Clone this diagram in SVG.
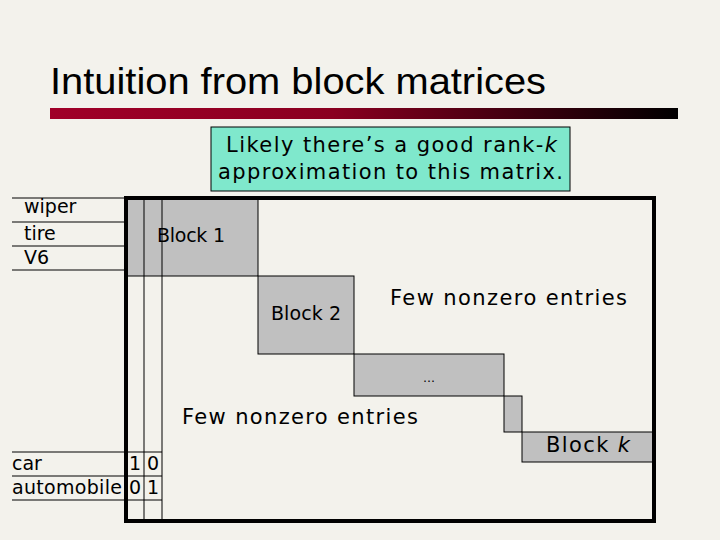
<svg xmlns="http://www.w3.org/2000/svg" width="720" height="540" viewBox="0 0 720 540">
<defs>
<linearGradient id="bar" x1="0" x2="1" y1="0" y2="0">
<stop offset="0" stop-color="#a00028"/><stop offset="0.45" stop-color="#8a0020"/><stop offset="1" stop-color="#000"/>
</linearGradient>
<style>
text{font-family:"DejaVu Sans","Noto Sans",sans-serif;fill:#000}
.blk{fill:#c0c0c0;stroke:#000;stroke-width:1}
.ln{stroke:#000;stroke-width:1}
.lab{font-size:19px}
.big{font-size:21px}
</style>
</defs>
<rect width="720" height="540" fill="#f3f2ec"/>
<text x="50" y="94" style="font-family:'Liberation Sans',Arial,sans-serif;font-size:37px" textLength="496" lengthAdjust="spacingAndGlyphs">Intuition from block matrices</text>
<rect x="50" y="108" width="628" height="11" fill="url(#bar)"/>
<g id="note">
<rect x="211" y="127" width="359" height="64" fill="#7fe8cc" stroke="#000" stroke-width="1"/>
<text x="226" y="152" class="big" textLength="331">Likely there’s a good rank-<tspan font-style="italic">k</tspan></text>
<text x="218" y="179" class="big" textLength="345">approximation to this matrix.</text>
</g>
<g id="blocks">
<rect class="blk" x="126" y="198" width="132" height="78"/>
<rect class="blk" x="258" y="276" width="96" height="78"/>
<rect class="blk" x="354" y="354" width="150" height="42"/>
<rect class="blk" x="504" y="396" width="18" height="36"/>
<rect class="blk" x="522" y="432" width="132" height="30"/>
</g>
<g id="grid">
<line class="ln" x1="144" y1="198" x2="144" y2="521"/>
<line class="ln" x1="162" y1="198" x2="162" y2="521"/>
<line class="ln" x1="12" y1="198" x2="126" y2="198"/>
<line class="ln" x1="12" y1="222" x2="126" y2="222"/>
<line class="ln" x1="12" y1="246" x2="126" y2="246"/>
<line class="ln" x1="12" y1="270" x2="126" y2="270"/>
<line class="ln" x1="12" y1="452" x2="162" y2="452"/>
<line class="ln" x1="12" y1="476" x2="162" y2="476"/>
<line class="ln" x1="12" y1="500" x2="162" y2="500"/>
<rect x="126" y="198" width="528" height="323" fill="none" stroke="#000" stroke-width="4"/>
</g>
<g id="labels">
<text x="24" y="213" class="lab">wiper</text>
<text x="24" y="240" class="lab">tire</text>
<text x="24" y="264" class="lab">V6</text>
<text x="157" y="242" class="lab" textLength="68">Block 1</text>
<text x="271" y="320" class="lab" textLength="70">Block 2</text>
<text x="390" y="305" class="big" textLength="237">Few nonzero entries</text>
<text x="429" y="382" text-anchor="middle" font-size="12">…</text>
<text x="182" y="424" class="big" textLength="236">Few nonzero entries</text>
<text x="546" y="452" class="big" textLength="84">Block <tspan font-style="italic">k</tspan></text>
<text x="12" y="470" class="lab">car</text>
<text x="12" y="494" class="lab" textLength="110">automobile</text>
<text x="129" y="470" class="lab">1</text><text x="147" y="470" class="lab">0</text>
<text x="129" y="494" class="lab">0</text><text x="147" y="494" class="lab">1</text>
</g>
</svg>
